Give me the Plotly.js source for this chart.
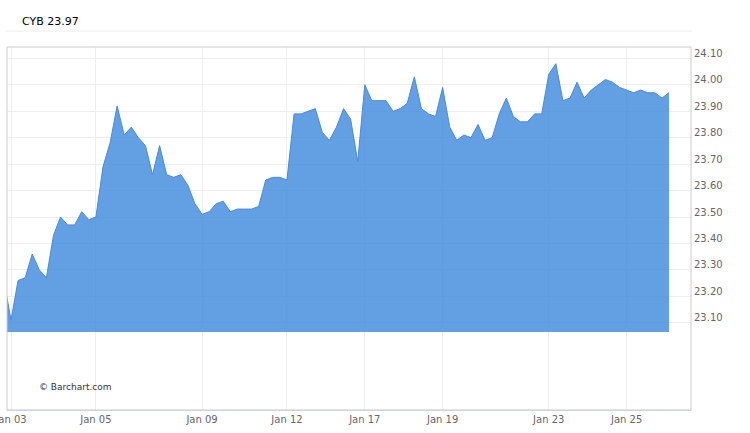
<!DOCTYPE html>
<html>
<head>
<meta charset="utf-8">
<script src="https://cdn.plot.ly/plotly-3.0.1.min.js"></script>
<style>html,body{margin:0;padding:0;background:#fff;}#chart{width:750px;height:433px;}</style>
</head>
<body>
<div id="chart"></div>
<script>
// Symbol and last price
const symbol = "CYB";
const lastPrice = "23.97";

// Price series (index -1 is partly clipped at the left edge)
const prices = [
  23.26,
  23.11, 23.26, 23.27, 23.36, 23.30, 23.27, 23.43, 23.50, 23.47, 23.47,
  23.52, 23.49, 23.50, 23.69, 23.78, 23.92, 23.81, 23.84, 23.80, 23.77,
  23.66, 23.77, 23.66, 23.65, 23.66, 23.62, 23.55, 23.51, 23.52, 23.55,
  23.56, 23.52, 23.53, 23.53, 23.53, 23.54, 23.64, 23.65, 23.65, 23.64,
  23.89, 23.89, 23.90, 23.91, 23.82, 23.79, 23.84, 23.91, 23.87, 23.71,
  24.00, 23.94, 23.94, 23.94, 23.90, 23.91, 23.93, 24.03, 23.91, 23.89,
  23.88, 23.99, 23.84, 23.79, 23.81, 23.80, 23.85, 23.79, 23.80, 23.89,
  23.95, 23.88, 23.86, 23.86, 23.89, 23.89, 24.04, 24.08, 23.94, 23.95,
  24.01, 23.95, 23.98, 24.00, 24.02, 24.01, 23.99, 23.98, 23.97, 23.98,
  23.97, 23.97, 23.95, 23.97
];
const firstIndex = -1;

// Area threshold (bottom of the filled area)
const areaBase = 23.065;

// X tick labels and the point index each one falls on
const tickLabels = ["Jan 03", "Jan 05", "Jan 09", "Jan 12", "Jan 17", "Jan 19", "Jan 23", "Jan 25"];
const tickIndex  = [0, 12, 27, 39, 50, 61, 76, 87];

// Y ticks
const yTicks = [23.10, 23.20, 23.30, 23.40, 23.50, 23.60, 23.70, 23.80, 23.90, 24.00, 24.10];

const xs = prices.map((_, i) => i + firstIndex);
const lastX = xs[xs.length - 1];

const font = "DejaVu Sans, Verdana, sans-serif";

const traces = [
  {
    x: [xs[0], lastX],
    y: [areaBase, areaBase],
    type: "scatter",
    mode: "lines",
    line: {width: 0, color: "rgba(0,0,0,0)"},
    hoverinfo: "skip",
    showlegend: false
  },
  {
    x: xs,
    y: prices,
    type: "scatter",
    mode: "lines",
    fill: "tonexty",
    fillcolor: "rgba(60,135,220,0.8)",
    line: {color: "#4a8ad8", width: 1},
    showlegend: false
  }
];

const layout = {
  width: 750,
  height: 433,
  margin: {l: 7, r: 59, t: 47, b: 23, pad: 0},
  paper_bgcolor: "#ffffff",
  plot_bgcolor: "#ffffff",
  font: {family: font, size: 10, color: "#666666"},
  showlegend: false,
  xaxis: {
    range: [-0.565, 96.1],
    tickvals: tickIndex,
    ticktext: tickLabels,
    showgrid: true,
    gridcolor: "#eeeeee",
    gridwidth: 1,
    zeroline: false,
    showline: true,
    linecolor: "#ccd6eb",
    linewidth: 1,
    ticks: "",
    ticklabeloverflow: "allow",
    tickfont: {family: font, size: 10, color: "#666666"},
    fixedrange: true
  },
  yaxis: {
    side: "right",
    range: [22.770, 24.143],
    tickvals: yTicks,
    ticktext: yTicks.map(v => v.toFixed(2)),
    showgrid: true,
    gridcolor: "#eeeeee",
    gridwidth: 1,
    zeroline: false,
    showline: false,
    ticks: "",
    ticklabelshift: -5,
    ticklabelstandoff: 2,
    ticklabeloverflow: "allow",
    tickfont: {family: font, size: 10, color: "#666666"},
    fixedrange: true
  },
  shapes: [
    {type: "rect", xref: "paper", yref: "paper", x0: 0, x1: 1, y0: 0, y1: 1,
     line: {color: "#cccccc", width: 1}, fillcolor: "rgba(0,0,0,0)", layer: "above"},
    {type: "line", xref: "paper", yref: "paper", x0: -0.0015, x1: 1.0015, y0: 1.044, y1: 1.044,
     line: {color: "#eeeeee", width: 1}}
  ],
  annotations: [
    {text: symbol + " " + lastPrice, xref: "paper", yref: "paper", x: 0.019, y: 1.069,
     xanchor: "left", yanchor: "middle", showarrow: false,
     font: {family: font, size: 11, color: "#000000"}},
    {text: "© Barchart.com", xref: "paper", yref: "paper", x: 0.044, y: 0.063,
     xanchor: "left", yanchor: "middle", showarrow: false,
     font: {family: font, size: 9, color: "#333333"}}
  ]
};

Plotly.newPlot("chart", traces, layout, {displayModeBar: false, staticPlot: true});
</script>
</body>
</html>
